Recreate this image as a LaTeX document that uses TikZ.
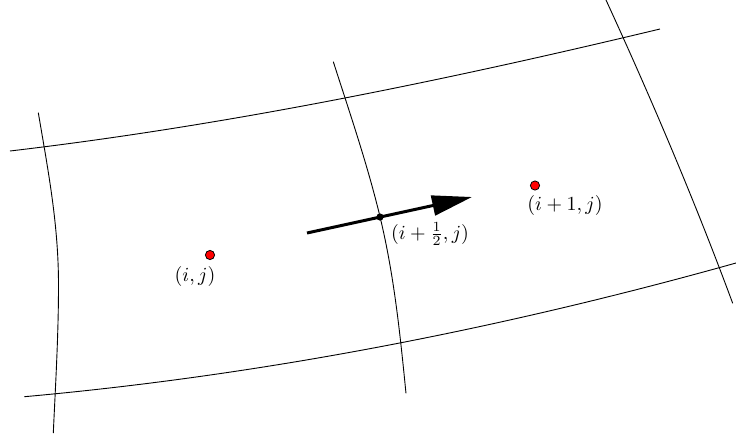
\documentclass[tikz,border=0pt]{standalone}
\usetikzlibrary{arrows.meta}
\begin{document}
\begin{tikzpicture}[x=0.5pt,y=-0.5pt,
  gridline/.style={line width=0.45pt, black},
  celldot/.style={circle, draw=black, line width=0.4pt, fill=red, inner sep=0pt, minimum size=4.6pt},
  facedot/.style={circle, fill=black, inner sep=0pt, minimum size=3.6pt},
  lbl/.style={inner sep=0pt, font=\normalsize}]
\useasboundingbox (0,0) rectangle (736,440);
% horizontal curves
\draw[gridline] (10,151) .. controls (227,125.4) and (443,81) .. (660,29);
\draw[gridline] (24.4,396.7) .. controls (261,375.4) and (499,329.4) .. (736,263);
% vertical curves
\draw[gridline] (38.3,112.7) .. controls (48.5,172.7) and (58.5,225) .. (58.5,285)
                 .. controls (58.5,335) and (55.6,383) .. (53.3,433);
\draw[gridline] (333.3,61.7) .. controls (350,113.7) and (367.5,164.7) .. (380,216.7)
                 .. controls (394.2,275.7) and (400.1,334.3) .. (406,393.3);
\draw[gridline] (606,0) .. controls (652,100) and (695.7,203.3) .. (732.7,303.3);
% flux arrow
\coordinate (as) at (307,233);
\coordinate (ae) at (472,197);
\draw[line width=1.5pt, -{Triangle[length=20pt,width=10pt]}] (as) -- (ae);
\node[facedot] (f) at (380,217) {};
% cell centres
\node[celldot] (c1) at (210,255) {};
\node[celldot] (c2) at (535,185.5) {};
% labels
\node[lbl] (l1) at (195,276) {$(i,j)$};
\node[lbl] (l2) at (565,205) {$(i+1,j)$};
\node[lbl] (lf) at (430,234) {$(i+\frac{1}{2},j)$};
\end{tikzpicture}
\end{document}
